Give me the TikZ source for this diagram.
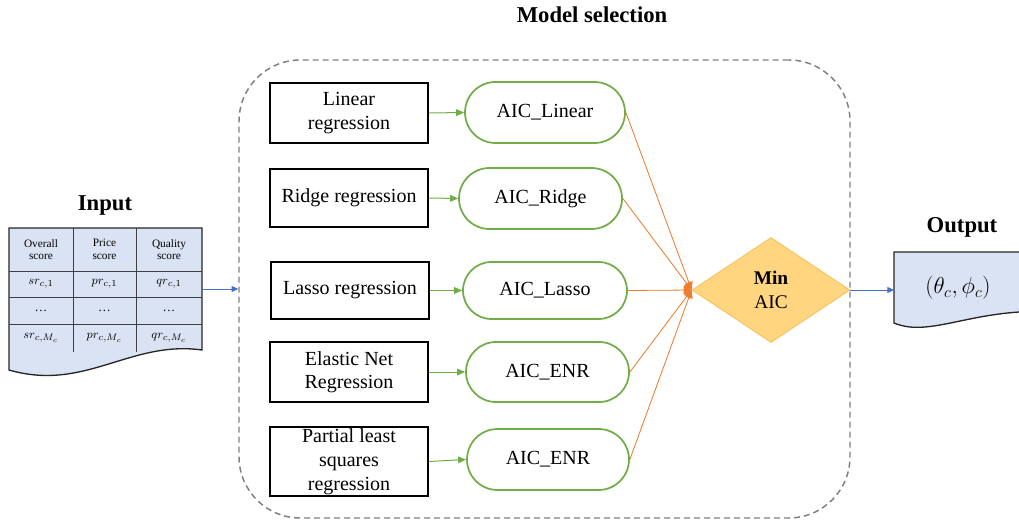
\documentclass[tikz,border=0pt]{standalone}
\usepackage{fontspec}
\setmainfont{Liberation Serif}
\usetikzlibrary{shapes.geometric,shapes.misc,arrows.meta}
\definecolor{cgreen}{HTML}{70AD47}
\definecolor{corange}{HTML}{ED7D31}
\definecolor{cblue}{HTML}{4472C4}
\definecolor{cgray}{HTML}{7F7F7F}
\definecolor{docfill}{HTML}{DAE3F3}
\definecolor{dfill}{HTML}{FFD580}
\definecolor{dline}{HTML}{F2C15A}
\definecolor{tline}{HTML}{404040}
\begin{document}
\begin{tikzpicture}[x=0.75pt,y=-0.75pt,
  sz/.style 2 args={minimum width={#1*0.75pt},minimum height={#2*0.75pt}},
  mbox/.style={draw=black,line width=1.3pt,inner sep=0pt,align=center,font=\fontsize{15}{17.5}\selectfont},
  aic/.style={rounded rectangle,draw=cgreen,line width=1.3pt,inner sep=0pt,font=\fontsize{15}{18}\selectfont},
  garr/.style={draw=cgreen,line width=0.75pt,-{Triangle[length=6pt,width=5pt]}},
  oarr/.style={draw=corange,fill=corange,line width=0.6pt,-{Triangle[length=6pt,width=6pt]}},
  barr/.style={draw=cblue,line width=0.75pt,-{Triangle[length=5pt,width=4.5pt]}},
  ttl/.style={font=\fontsize{17}{20}\selectfont\bfseries},
  hdr/.style={font=\fontsize{8.5}{9.5}\selectfont,align=center,inner sep=0pt},
  cell/.style={font=\fontsize{9.5}{10}\selectfont,inner sep=0pt},
  doc/.style={fill=docfill,draw=black!85,line width=1pt},
  tl/.style={draw=tline,line width=0.6pt}
]
\useasboundingbox (0,0) rectangle (1019,520);

% title and selection frame
\node[ttl] (msel) at (592,15) {Model selection};
\node[draw=cgray,line width=1.1pt,dash pattern=on 4.5pt off 3pt,rounded corners=46pt,sz={611}{458}] (sel) at (544.5,289) {};

% method boxes
\node[mbox,sz={158}{60}] (lin) at (349,113) {Linear\\regression};
\node[mbox,sz={158}{58}] (rid) at (349,198) {Ridge regression};
\node[mbox,sz={158}{57}] (las) at (350,290.5) {Lasso regression};
\node[mbox,sz={158}{60}] (ela) at (349,372) {Elastic Net\\Regression};
\node[mbox,sz={158}{69},font=\fontsize{15}{18}\selectfont] (pls) at (349,461.5) {Partial least\\squares\\regression};

% AIC nodes
\node[aic,sz={160}{61}] (alin) at (545,112.5) {AIC\_Linear};
\node[aic,sz={163}{61}] (arid) at (540.5,198.5) {AIC\_Ridge};
\node[aic,sz={164}{57}] (alas) at (545,290.5) {AIC\_Lasso};
\node[aic,sz={163}{60}] (aela) at (547.5,372) {AIC\_ENR};
\node[aic,sz={162}{61}] (apls) at (548,459.5) {AIC\_ENR};

% decision
\node[diamond,fill=dfill,draw=dline,line width=0.6pt,inner sep=0pt,sz={158}{105},align=center,font=\fontsize{14.5}{17.5}\selectfont] (dia) at (771,290) {\textbf{Min}\\AIC};

% green arrows
\draw[garr] (lin.east) -- (alin.west);
\draw[garr] (rid.east) -- (arid.west);
\draw[garr] (las.east) -- (alas.west);
\draw[garr] (ela.east) -- (aela.west);
\draw[garr] (pls.east) -- (apls.west);

% orange arrows
\draw[oarr] (alin.east) -- (dia.west);
\draw[oarr] (arid.east) -- (dia.west);
\draw[oarr] (alas.east) -- (dia.west);
\draw[oarr] (aela.east) -- (dia.west);
\draw[oarr] (apls.east) -- (dia.west);

% input document
\node[ttl] (intitle) at (105,205) {Input};
\path[doc] (9,228) -- (202,228) -- (202,350) .. controls (130,340) and (85,392) .. (9,370) -- cycle;
\draw[tl] (9,271) -- (202,271);
\draw[tl] (9,297) -- (202,297);
\draw[tl] (9,324) -- (202,324);
\draw[tl] (73,228) -- (73,352);
\draw[tl] (136,228) -- (136,352);
\node[hdr] (h1) at (41,249.5) {Overall\\score};
\node[hdr] (h2) at (104.5,249.5) {Price\\score};
\node[hdr] (h3) at (169,249.5) {Quality\\score};
\node[cell] (c11) at (41,284) {$sr_{c,1}$};
\node[cell] (c12) at (104.5,284) {$pr_{c,1}$};
\node[cell] (c13) at (169,284) {$qr_{c,1}$};
\node[cell] (c21) at (41,310.5) {\dots};
\node[cell] (c22) at (104.5,310.5) {\dots};
\node[cell] (c23) at (169,310.5) {\dots};
\node[cell] (c31) at (41,338) {$sr_{c,M_c}$};
\node[cell] (c32) at (104.5,338) {$pr_{c,M_c}$};
\node[cell] (c33) at (169,338) {$qr_{c,M_c}$};
\coordinate (inR) at (202,289);

% output document
\node[ttl] (outtitle) at (962,227) {Output};
\begin{scope}
\clip (0,0) rectangle (1019,520);
\path[doc] (894,252) -- (1030,252) -- (1030,311) -- (1019,312) .. controls (960,316) and (925,336) .. (894,323) -- cycle;
\end{scope}
\node[font=\fontsize{17}{20}\selectfont] (outv) at (958,288) {$(\theta_c,\phi_c)$};
\coordinate (outL) at (894,290);

% blue arrows
\draw[barr] (inR) -- (sel.west);
\draw[barr] (dia.east) -- (outL);
\end{tikzpicture}
\end{document}
